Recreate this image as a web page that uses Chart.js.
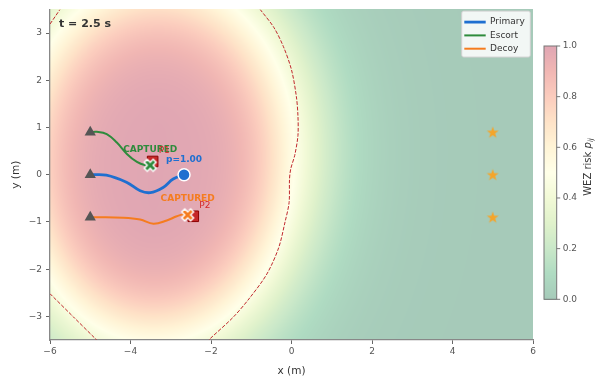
<!DOCTYPE html>
<html>
<head>
<meta charset="utf-8">
<script src="https://cdn.jsdelivr.net/npm/chart.js@4.4.0/dist/chart.umd.min.js"></script>
<style>
  html, body { margin: 0; padding: 0; background: #fff; }
  #wrap { width: 600px; height: 378px; }
</style>
</head>
<body>
<div id="wrap"><canvas id="mainChart"></canvas></div>
<script>
const FONT = "'DejaVu Sans', 'Liberation Sans', sans-serif";

// trajectories
const primaryX = [-5.0, -4.6, -4.1, -3.76, -3.51, -3.19, -2.94, -2.67];
const primaryY = [0.0, -0.01, -0.16, -0.34, -0.38, -0.27, -0.09, 0.0];
const escortX = [-5.0, -4.84, -4.59, -4.34, -4.09, -3.84, -3.63, -3.51];
const escortY = [0.9, 0.91, 0.86, 0.68, 0.44, 0.27, 0.2, 0.2];
const decoyX = [-5.0, -4.84, -4.18, -3.76, -3.43, -3.1, -2.85, -2.69, -2.58];
const decoyY = [-0.9, -0.9, -0.91, -0.95, -1.04, -0.97, -0.88, -0.84, -0.85];

const startX = [-5, -5, -5];
const startY = [0.9, 0, -0.9];
const goalX = [5, 5, 5];
const goalY = [0.9, 0, -0.9];
const pursuerX = [-3.45, -2.44];
const pursuerY = [0.28, -0.88];
const pursuerNames = ["P1", "P2"];
const captureX = [-3.51, -2.58];
const captureY = [0.2, -0.85];
const primaryEndX = [-2.67];
const primaryEndY = [0.0];
const primaryProb = 1.00;
const timeNow = 2.5;

// dashed WEZ boundary
const contourTopX = [-6, -5.75];
const contourTopY = [3.19, 3.5];
const contourRightX = [-0.78, -0.44, -0.2, 0.0, 0.12, 0.16, 0.16, 0.08, -0.02, -0.05, -0.06, -0.16, -0.32, -0.61, -1.03, -1.44, -2.02, -2.05];
const contourRightY = [3.5, 3.12, 2.71, 2.22, 1.66, 1.25, 0.83, 0.41, 0.12, -0.1, -0.59, -1.0, -1.55, -2.1, -2.6, -3.01, -3.47, -3.5];
const contourLowX = [-6, -5.42, -4.84];
const contourLowY = [-2.52, -3.01, -3.5];

// risk field lobes (estimated from the shading)
const wezCx = [-3.3, -3.43];
const wezCy = [1.0, -0.7];
const wezR = [3.05, 2.65];
const wezWidth = 0.75;

const xTicks = [-6, -4, -2, 0, 2, 4, 6];
const yTicks = [-3, -2, -1, 0, 1, 2, 3];
const cbTicks = [0, 0.2, 0.4, 0.6, 0.8, 1.0];

const blue = "#1f6fd0";
const green = "#2e8b3c";
const orange = "#f57c1f";
const red = "#c62828";

// RdYlGn_r, shown at 35% alpha over white
const cmapStops = ["#006837", "#1a9850", "#66bd63", "#a6d96a", "#d9ef8b", "#ffffbf",
                   "#fee08b", "#fdae61", "#f46d43", "#d73027", "#a50026"];
const cmapRgb = cmapStops.map(h => [1, 3, 5].map(i => parseInt(h.substr(i, 2), 16)));
const alpha = 0.35;

function cmap(p) {
    p = Math.max(0, Math.min(1, p));
    const t = p * (cmapRgb.length - 1);
    const i = Math.min(cmapRgb.length - 2, Math.floor(t));
    const f = t - i;
    return cmapRgb[i].map((c, k) => {
        const v = c + (cmapRgb[i + 1][k] - c) * f;
        return Math.round(v * alpha + 255 * (1 - alpha));
    });
}

function risk(x, y) {
    let q = 1;
    for (let j = 0; j < wezCx.length; j++) {
        const d = Math.hypot(x - wezCx[j], y - wezCy[j]);
        q *= 1 - 1 / (1 + Math.exp((d - wezR[j]) / wezWidth));
    }
    return 1 - q;
}

function pts(xs, ys) {
    return xs.map((x, i) => ({ x: x, y: ys[i] }));
}

function minus(v) {
    return String(v).replace("-", "\u2212");
}

function xMarker(color) {
    const c = document.createElement("canvas");
    c.width = c.height = 18;
    const g = c.getContext("2d");
    g.translate(9, 9);
    g.rotate(Math.PI / 4);
    const a = 2.1, L = 6.3;
    const p = [[-a, -L], [a, -L], [a, -a], [L, -a], [L, a], [a, a], [a, L], [-a, L], [-a, a], [-L, a], [-L, -a], [-a, -a]];
    g.beginPath();
    p.forEach((q, i) => i ? g.lineTo(q[0], q[1]) : g.moveTo(q[0], q[1]));
    g.closePath();
    g.fillStyle = color;
    g.fill();
    g.lineWidth = 1.4;
    g.strokeStyle = "#fff";
    g.stroke();
    return c;
}

function starMarker(color) {
    const c = document.createElement("canvas");
    c.width = c.height = 16;
    const g = c.getContext("2d");
    g.translate(8, 8.5);
    g.beginPath();
    for (let i = 0; i < 10; i++) {
        const r = i % 2 ? 2.5 : 6.3;
        const a = -Math.PI / 2 + i * Math.PI / 5;
        const px = r * Math.cos(a), py = r * Math.sin(a);
        i ? g.lineTo(px, py) : g.moveTo(px, py);
    }
    g.closePath();
    g.fillStyle = color;
    g.fill();
    return c;
}

const heatmap = {
    id: "heatmap",
    beforeDraw(chart) {
        const ca = chart.chartArea;
        const xs = chart.scales.x, ys = chart.scales.y;
        const w = Math.round(ca.right - ca.left), h = Math.round(ca.bottom - ca.top);
        const off = document.createElement("canvas");
        off.width = w; off.height = h;
        const g = off.getContext("2d");
        const img = g.createImageData(w, h);
        for (let j = 0; j < h; j++) {
            const y = ys.getValueForPixel(ca.top + j + 0.5);
            for (let i = 0; i < w; i++) {
                const x = xs.getValueForPixel(ca.left + i + 0.5);
                const c = cmap(risk(x, y));
                const k = (j * w + i) * 4;
                img.data[k] = c[0]; img.data[k + 1] = c[1]; img.data[k + 2] = c[2]; img.data[k + 3] = 255;
            }
        }
        g.putImageData(img, 0, 0);
        chart.ctx.drawImage(off, ca.left, ca.top);
    }
};

const overlay = {
    id: "overlay",
    afterDatasetsDraw(chart) {
        const ctx = chart.ctx;
        const xs = chart.scales.x, ys = chart.scales.y;
        const ca = chart.chartArea;
        ctx.save();
        ctx.textBaseline = "middle";

        // capture labels
        ctx.textAlign = "center";
        ctx.font = "bold 9px " + FONT;
        [green, orange].forEach((col, i) => {
            ctx.fillStyle = col;
            ctx.fillText("CAPTURED", xs.getPixelForValue(captureX[i]), ys.getPixelForValue(captureY[i]) - 16);
        });
        ctx.fillStyle = blue;
        ctx.fillText("p=" + primaryProb.toFixed(2), xs.getPixelForValue(primaryEndX[0]), ys.getPixelForValue(primaryEndY[0]) - 15);

        // pursuer names
        ctx.textAlign = "left";
        ctx.font = "9px " + FONT;
        ctx.fillStyle = "#d62728";
        pursuerNames.forEach((n, i) => {
            ctx.fillText(n, xs.getPixelForValue(pursuerX[i]) + 6, ys.getPixelForValue(pursuerY[i]) - 11);
        });

        // time stamp
        ctx.font = "bold 11px " + FONT;
        ctx.fillStyle = "#333";
        ctx.fillText("t = " + timeNow.toFixed(1) + " s", ca.left + 9, ca.top + 15);
        ctx.restore();
    },
    afterDraw(chart) {
        const ctx = chart.ctx;
        const ca = chart.chartArea;
        ctx.save();

        // legend
        const items = chart.data.datasets.filter(d => d.legend);
        const bx = ca.right - 71.3, by = ca.top + 1.7, bw = 68.6, bh = 46;
        ctx.beginPath();
        ctx.roundRect(bx, by, bw, bh, 2);
        ctx.fillStyle = "rgba(255,255,255,0.85)";
        ctx.fill();
        ctx.strokeStyle = "#d0d0d0";
        ctx.lineWidth = 1;
        ctx.stroke();
        ctx.font = "9px " + FONT;
        ctx.textBaseline = "middle";
        ctx.textAlign = "left";
        items.forEach((d, i) => {
            const y = by + 11 + i * 13.3;
            ctx.beginPath();
            ctx.moveTo(bx + 2.6, y);
            ctx.lineTo(bx + 24, y);
            ctx.strokeStyle = d.borderColor;
            ctx.lineWidth = d.borderWidth;
            ctx.stroke();
            ctx.fillStyle = "#333";
            ctx.fillText(d.label, bx + 28.3, y);
        });

        // colorbar
        const cx = ca.right + 11, cw = 12.7, ct = 46, cb = 299.3;
        for (let yy = ct; yy < cb; yy++) {
            const p = (cb - yy - 0.5) / (cb - ct);
            const c = cmap(p);
            ctx.fillStyle = "rgb(" + c.join(",") + ")";
            ctx.fillRect(cx, yy, cw, 1);
        }
        ctx.strokeStyle = "#777";
        ctx.lineWidth = 1;
        ctx.strokeRect(cx, ct, cw, cb - ct);
        ctx.fillStyle = "#555";
        ctx.font = "9px " + FONT;
        cbTicks.forEach(v => {
            const y = cb - v * (cb - ct);
            ctx.beginPath();
            ctx.moveTo(cx + cw, y);
            ctx.lineTo(cx + cw + 3.5, y);
            ctx.stroke();
            ctx.fillText(v.toFixed(1), cx + cw + 6, y);
        });

        // colorbar label
        ctx.translate(588, 167);
        ctx.rotate(-Math.PI / 2);
        ctx.fillStyle = "#333";
        const f1 = "10px " + FONT, f2 = "italic 10px " + FONT, f3 = "italic 7px " + FONT;
        ctx.font = f1; const w1 = ctx.measureText("WEZ risk ").width;
        ctx.font = f2; const w2 = ctx.measureText("p").width;
        ctx.font = f3; const w3 = ctx.measureText("ij").width;
        let x0 = -(w1 + w2 + w3) / 2;
        ctx.font = f1; ctx.fillText("WEZ risk ", x0, 0);
        ctx.font = f2; ctx.fillText("p", x0 + w1, 0);
        ctx.font = f3; ctx.fillText("ij", x0 + w1 + w2, 3);
        ctx.restore();
    }
};

const main = document.getElementById("mainChart");

new Chart(main, {
    type: "scatter",
    data: {
        datasets: [
            { label: "capture-escort", data: pts([captureX[0]], [captureY[0]]), pointStyle: xMarker(green), pointRadius: 7, order: 1 },
            { label: "capture-decoy", data: pts([captureX[1]], [captureY[1]]), pointStyle: xMarker(orange), pointRadius: 7, order: 1 },
            { label: "primary-end", data: pts(primaryEndX, primaryEndY), pointRadius: 6, backgroundColor: blue, borderColor: "#fff", borderWidth: 1.5, order: 2 },
            { label: "pursuers", data: pts(pursuerX, pursuerY), pointStyle: "rect", pointRadius: 7.5, backgroundColor: red, borderColor: "#8b0000", borderWidth: 1, order: 3 },
            { label: "goals", data: pts(goalX, goalY), pointStyle: starMarker("#f5a52a"), pointRadius: 6, order: 4 },
            { label: "starts", data: pts(startX, startY), pointStyle: "triangle", pointRadius: 6.5, backgroundColor: "#555", borderColor: "#555", borderWidth: 0, order: 4 },
            { label: "Primary", legend: true, data: pts(primaryX, primaryY), showLine: true, tension: 0.4, borderColor: blue, borderWidth: 2.8, pointRadius: 0, order: 5 },
            { label: "Escort", legend: true, data: pts(escortX, escortY), showLine: true, tension: 0.4, borderColor: green, borderWidth: 2, pointRadius: 0, order: 6 },
            { label: "Decoy", legend: true, data: pts(decoyX, decoyY), showLine: true, tension: 0.4, borderColor: orange, borderWidth: 2, pointRadius: 0, order: 6 },
            { label: "wez-top", data: pts(contourTopX, contourTopY), showLine: true, borderColor: "#c0282d", borderWidth: 1, borderDash: [3.7, 1.6], pointRadius: 0, order: 9 },
            { label: "wez-right", data: pts(contourRightX, contourRightY), showLine: true, tension: 0.3, borderColor: "#c0282d", borderWidth: 1, borderDash: [3.7, 1.6], pointRadius: 0, order: 9 },
            { label: "wez-low", data: pts(contourLowX, contourLowY), showLine: true, tension: 0.3, borderColor: "#c0282d", borderWidth: 1, borderDash: [3.7, 1.6], pointRadius: 0, order: 9 }
        ]
    },
    options: {
        responsive: true,
        maintainAspectRatio: false,
        animation: false,
        devicePixelRatio: 1,
        layout: { autoPadding: false, padding: { top: 5, right: 67, left: 0, bottom: 0 } },
        plugins: {
            legend: { display: false },
            tooltip: { enabled: false }
        },
        scales: {
            x: {
                type: "linear",
                min: -6,
                max: 6,
                afterBuildTicks: s => { s.ticks = xTicks.map(v => ({ value: v })); },
                afterFit: s => { s.height = 38; },
                grid: { drawOnChartArea: false, drawTicks: true, tickLength: 4, color: "#666" },
                border: { display: true, color: "#888", width: 1.3 },
                ticks: { font: { size: 9, family: FONT }, color: "#555", padding: 2, callback: v => minus(v) },
                title: { display: true, text: "x (m)", color: "#333", font: { size: 10.5, family: FONT }, padding: { top: 2, bottom: 0 } }
            },
            y: {
                type: "linear",
                min: -3.5,
                max: 3.5,
                afterBuildTicks: s => { s.ticks = yTicks.map(v => ({ value: v })); },
                afterFit: s => { s.width = 50; },
                grid: { drawOnChartArea: false, drawTicks: true, tickLength: 4, color: "#666" },
                border: { display: true, color: "#888", width: 1.3 },
                ticks: { font: { size: 9, family: FONT }, color: "#555", padding: 4, callback: v => minus(v) },
                title: { display: true, text: "y (m)", color: "#333", font: { size: 10.5, family: FONT }, padding: { top: 10, bottom: 0 } }
            }
        }
    },
    plugins: [heatmap, overlay]
});
</script>
</body>
</html>
